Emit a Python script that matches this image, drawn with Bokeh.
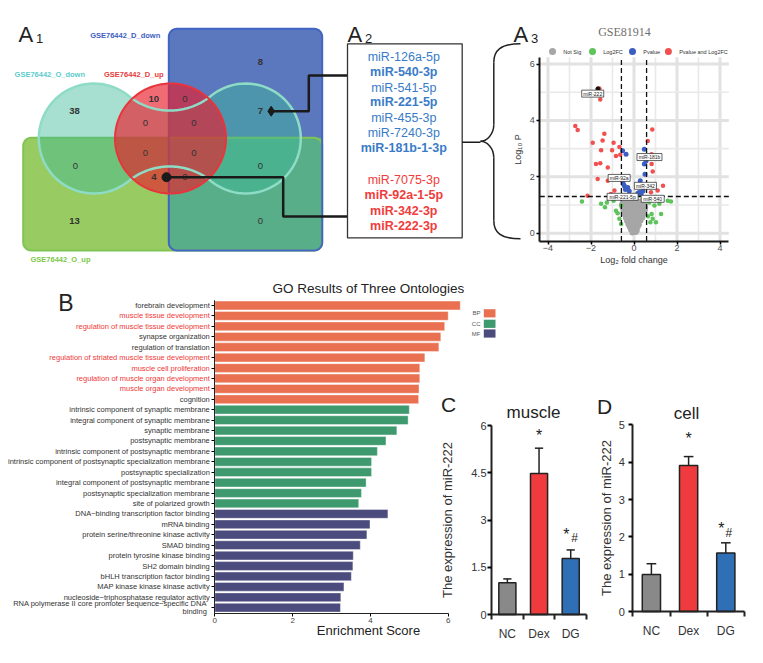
import numpy as np
from bokeh.plotting import figure
from bokeh.models import Range1d, LinearAxis, FixedTicker
from bokeh.core.properties import value
from bokeh.embed import file_html
from bokeh.resources import INLINE

SANS = "Liberation Sans"
SERIF = "Liberation Serif"

# ------------------------------------------------------------------ data
# A1 - Venn diagram
venn_sets = ["GSE76442_D_down", "GSE76442_O_down", "GSE76442_D_up", "GSE76442_O_up"]
venn_counts = [38, 10, 0, 8, 7, 0, 0, 0, 0, 0, 0, 4, 0, 13, 0]

# A2 - miRNA lists
mirs_down = ["miR-126a-5p", "miR-540-3p", "miR-541-5p", "miR-221-5p",
             "miR-455-3p", "miR-7240-3p", "miR-181b-1-3p"]
mirs_down_bold = [False, True, False, True, False, False, True]
mirs_up = ["miR-7075-3p", "miR-92a-1-5p", "miR-342-3p", "miR-222-3p"]
mirs_up_bold = [False, True, True, True]

# A3 - volcano GSE81914 (log2 fold change, -log10 P)
ns_x = [-0.08, 0.02, 0.09, -0.15, -0.04, 0.05, 0.14, -0.21, -0.11, -0.01, 0.09, 0.19,
        -0.27, -0.17, -0.06, 0.04, 0.13, 0.24, -0.33, -0.23, -0.12, -0.02, 0.1, 0.21, 0.31,
        -0.39, -0.29, -0.17, -0.05, 0.07, 0.18, 0.3, 0.4, -0.45, -0.35, -0.23, -0.11, 0.01,
        0.13, 0.25, 0.36, 0.46, -0.5, -0.4, -0.28, -0.16, -0.04, 0.08, 0.2, 0.33, 0.44, 0.52,
        -0.54, -0.42, -0.3, -0.19, -0.07, 0.05, 0.17, 0.29, 0.41, 0.53, -0.56, -0.45, -0.33,
        -0.21, -0.09, 0.03, 0.15, 0.27, 0.39, 0.5, -0.53, -0.4, -0.27, -0.13, 0.0, 0.13, 0.26,
        0.39, 0.52]
ns_y = [0.02, 0.05, 0.03, 0.12, 0.09, 0.13, 0.1, 0.22, 0.18, 0.21, 0.19, 0.23,
        0.31, 0.28, 0.33, 0.29, 0.32, 0.3, 0.42, 0.4, 0.44, 0.39, 0.43, 0.41, 0.44,
        0.54, 0.51, 0.55, 0.52, 0.56, 0.53, 0.5, 0.55, 0.66, 0.68, 0.64, 0.67, 0.65,
        0.69, 0.66, 0.64, 0.68, 0.79, 0.77, 0.8, 0.76, 0.81, 0.78, 0.8, 0.77, 0.79, 0.82,
        0.91, 0.89, 0.93, 0.9, 0.92, 0.88, 0.91, 0.94, 0.9, 0.92, 1.03, 1.01, 1.05,
        1.02, 1.04, 1.0, 1.03, 1.06, 1.02, 1.04, 1.16, 1.13, 1.17, 1.14, 1.18, 1.15, 1.12,
        1.16, 1.19]
fc_x = [-2.42, -1.53, -1.35, -1.26, -0.84, -0.76, -0.6, -0.68, -0.6, -0.95,
        0.71, 0.95, 1.18, 1.57, 1.72, 0.82, 0.87, 1.02, 0.76, 1.26, 0.65]
fc_y = [1.12, 1.04, 0.92, 1.09, 0.8, 0.71, 0.98, 0.51, 0.33, 1.15,
        1.09, 0.98, 1.04, 1.15, 1.12, 0.68, 0.51, 0.39, 0.39, 0.68, 0.6]
pv_x = [-0.53, -0.37, -0.53, -0.45, -0.29, -0.22, -0.4, 0.29, 0.4, 0.48, 0.56, 0.48,
        0.25, 0.51, 0.33, 0.42, 0.18, -0.5]
pv_y = [2.92, 2.8, 1.86, 1.68, 1.62, 1.5, 1.55, 1.86, 1.62, 2.45, 2.56, 2.98,
        1.45, 2.09, 1.39, 1.5, 1.42, 1.75]
both_x = [-1.61, -1.57, -2.73, -2.62, -1.38, -1.46, -1.92, -0.95, -1.53, -1.02, -0.68,
          -0.84, -0.64, -1.77, -1.57, -1.22, -1.69, -1.22, -0.91, -2.16, -1.07,
          0.85, 0.64, 0.82, 0.82, 0.87, 1.35, 0.95, 0.79, 1.1]
both_y = [5.13, 4.74, 3.80, 3.66, 3.53, 3.29, 3.21, 3.21, 2.94, 2.94, 3.06,
          2.74, 2.78, 2.45, 2.48, 2.33, 1.92, 1.86, 1.51, 1.33, 1.39,
          3.68, 3.27, 2.80, 2.45, 2.19, 1.68, 1.68, 1.45, 1.51]
volcano_cats = ["Not Sig", "Log2FC", "Pvalue", "Pvalue and Log2FC"]
volcano_labels = ["miR-222", "miR-181b", "miR-92a", "miR-342", "miR-221-5p", "miR-540"]
fc_cut = 0.585
p_cut = 1.301

# B - GO enrichment
go_terms = [
    "forebrain development", "muscle tissue development",
    "regulation of muscle tissue development", "synapse organization",
    "regulation of translation", "regulation of striated muscle tissue development",
    "muscle cell proliferation", "regulation of muscle organ development",
    "muscle organ development", "cognition",
    "intrinsic component of synaptic membrane", "integral component of synaptic membrane",
    "synaptic membrane", "postsynaptic membrane",
    "intrinsic component of postsynaptic membrane",
    "intrinsic component of postsynaptic specialization membrane",
    "postsynaptic specialization", "integral component of postsynaptic membrane",
    "postsynaptic specialization membrane", "site of polarized growth",
    "DNA\u2212binding transcription factor binding", "mRNA binding",
    "protein serine/threonine kinase activity", "SMAD binding",
    "protein tyrosine kinase binding", "SH2 domain binding",
    "bHLH transcription factor binding", "MAP kinase kinase kinase activity",
    "nucleoside\u2212triphosphatase regulator activity",
    "RNA polymerase II core promoter sequence\u2212specific DNA\nbinding"]
go_scores = [6.31, 6.0, 5.91, 5.81, 5.76, 5.40, 5.27, 5.27, 5.25, 5.24,
             5.00, 4.97, 4.68, 4.40, 4.18, 4.03, 4.03, 3.89, 3.77, 3.70,
             4.45, 3.99, 3.91, 3.74, 3.56, 3.55, 3.51, 3.32, 3.24, 3.23]
go_ontology = ["BP"] * 10 + ["CC"] * 10 + ["MF"] * 10
go_muscle = [False, True, True, False, False, True, True, True, True, False] + [False] * 20
go_ticks = [0, 2, 4, 6]

# C / D - qPCR
groups = ["NC", "Dex", "DG"]
muscle_mean = [1.01, 4.48, 1.78]
muscle_err = [0.12, 0.80, 0.27]
cell_mean = [0.99, 3.91, 1.57]
cell_err = [0.29, 0.24, 0.27]
muscle_ticks = [0, 1.5, 3, 4.5, 6]
cell_ticks = [0, 1, 2, 3, 4, 5]

# ------------------------------------------------------------------ canvas
W, H = 761, 661
X0, X1, Y0, Y1 = 0, W, 0, H


def xr(px0, k):
    return Range1d((X0 - px0) / k, (X1 - px0) / k)


def yr(py0, k):
    return Range1d((py0 - Y1) / k, (py0 - Y0) / k)


p = figure(width=W, height=H, x_range=Range1d(X0, X1), y_range=Range1d(Y1, Y0),
           x_axis_location=None, y_axis_location=None, toolbar_location=None,
           output_backend="svg", min_border=0, outline_line_color=None,
           background_fill_color="white", border_fill_color="white")
p.xgrid.visible = False
p.ygrid.visible = False
p.extra_x_ranges = {"vx": xr(633.5, 21.5), "gx": xr(214.3, 38.9),
                    "cx": xr(475.2, 31.67), "dx": xr(613.7, 37.2)}
p.extra_y_ranges = {"vy": yr(232.7, 28.2), "gy": yr(617.6, 10.42),
                    "cy": yr(614.0, 31.5), "dy": yr(611.0, 37.33)}


def T(x, y, text, size, color="#333333", align="center", baseline="middle",
      bold=False, font=SANS, rng=None):
    xs = list(x) if isinstance(x, (list, tuple, np.ndarray)) else [x]
    ys = list(y) if isinstance(y, (list, tuple, np.ndarray)) else [y]
    ts = list(text) if isinstance(text, (list, tuple)) else [text]
    kw = {} if rng is None else {"x_range_name": rng[0], "y_range_name": rng[1]}
    p.text(x=xs, y=ys, text=ts, text_font=value(font), text_font_size=value(f"{size}px"),
           text_color=color, text_align=align, text_baseline=baseline,
           text_font_style=value("bold" if bold else "normal"), **kw)


# ------------------------------------------------------------------ A1 Venn
def rrect(x0, x1, y0, y1, r, n=10):
    tr, br, bl, tl = r
    xs, ys = [], []
    for cx, cy, rr, a0 in [(x1 - tr, y0 + tr, tr, -np.pi / 2), (x1 - br, y1 - br, br, 0.0),
                           (x0 + bl, y1 - bl, bl, np.pi / 2), (x0 + tl, y0 + tl, tl, np.pi)]:
        t = np.linspace(a0, a0 + np.pi / 2, n)
        xs += list(cx + rr * np.cos(t))
        ys += list(cy + rr * np.sin(t))
    return xs, ys


def peanut(cx1, cx2, cy, R, neck, n=60):
    mx = (cx1 + cx2) / 2
    d = mx - cx1
    r = (d * d + neck * neck - R * R) / (2 * (R - neck))
    h = neck + r
    xs, ys = [], []

    def arc(cx, c_y, rad, a0, a1):
        t = np.linspace(a0, a1, n)
        xs.extend(cx + rad * np.cos(t))
        ys.extend(c_y + rad * np.sin(t))

    arc(cx1, cy, R, np.arctan2(-h, d), np.arctan2(h, d) - 2 * np.pi)
    arc(mx, cy + h, r, np.arctan2(-h, -d), np.arctan2(-h, d))
    arc(cx2, cy, R, np.arctan2(h, -d), np.arctan2(-h, -d))
    arc(mx, cy - h, r, np.arctan2(h, d), np.arctan2(h, -d))
    return xs, ys


bx, by = rrect(168.3, 321.7, 28.3, 250, (8, 8, 8, 8))
gxx, gyy = rrect(22.7, 321.7, 137.3, 250, (8, 8, 8, 8))
ix, iy = rrect(168.3, 321.7, 137.3, 250, (0, 8, 8, 0))
p.patch(gxx, gyy, fill_color="#98cb62", line_color=None)
p.patch(bx, by, fill_color="#5b77be", line_color=None)
p.patch(ix, iy, fill_color="#58ae88", line_color=None)
p.patch(gxx, gyy, fill_color=None, line_color="#80c553", line_width=2)
p.patch(bx, by, fill_color=None, line_color="#4264c3", line_width=2)
pnx, pny = peanut(93.3, 245.3, 138, 55, 28)
p.patch(pnx, pny, fill_color="#3cb898", fill_alpha=0.45, line_color=None)
tt = np.linspace(0, 2 * np.pi, 120)
rcx = list(170 + 55.5 * np.cos(tt))
rcy = list(138 + 55 * np.sin(tt))
p.patch(rcx, rcy, fill_color="#e81e2c", fill_alpha=0.66, line_color=None)
p.patch(pnx, pny, fill_color=None, line_color="#8edcc6", line_width=2.5)
p.patch(rcx, rcy, fill_color=None, line_color="#e8343c", line_width=2)

venn_count_xy = [(74, 110), (153.3, 98.3), (184.3, 98.3), (260, 61.7), (260, 110),
                 (145, 122.3), (193.3, 122.3), (75, 165), (145, 152.7), (193.3, 152.7),
                 (260, 165), (153.3, 176.7), (184.3, 176.7), (74, 220), (260, 220)]
for (cx, cy), c in zip(venn_count_xy, venn_counts):
    T(cx, cy, str(c), 9.5, "#333333", bold=(c > 0))

venn_label_xy = [(124.7, 35), (49.3, 74), (133.3, 74), (60, 259)]
venn_label_col = ["#3d5fc0", "#5ccccc", "#e83c3c", "#7cc84a"]
for (lx, ly), s, col in zip(venn_label_xy, venn_sets, venn_label_col):
    T(lx, ly, s, 7.5, col, bold=True)

# connectors
p.line([270.7, 308.3, 308.3, 347], [110.7, 110.7, 75, 75], line_color="#1a1a1a", line_width=2.5)
p.line([166, 282.7, 282.7, 347], [176.7, 176.7, 216, 216], line_color="#1a1a1a", line_width=2.5)
p.scatter([270.7], [110.7], marker="diamond", size=10, color="#1a1a1a")
p.scatter([166], [176.7], marker="circle", size=9, color="#1a1a1a")

# panel letters
for lx, sub in ((18, "1"), (347, "2"), (513, "3")):
    T(lx, 34, "A", 22, "#222222", align="left", baseline="alphabetic")
    T(lx + 17.5, 38, sub, 13, "#222222", align="left", baseline="alphabetic")

# ------------------------------------------------------------------ A2 list
p.quad(left=347, right=461.7, top=43.3, bottom=237.3, fill_color=None,
       line_color="#333333", line_width=1.3)
down_y = [56, 71.7, 87.3, 101.7, 117.7, 132.7, 147.3]
up_y = [179, 194.7, 210, 225]
for s, b, yy in zip(mirs_down, mirs_down_bold, down_y):
    T(403.3, yy, s, 12.5, "#3a7bc8", bold=b)
for s, b, yy in zip(mirs_up, mirs_up_bold, up_y):
    T(403.3, yy, s, 12.5, "#f03c3c", bold=b)
p.line([461.7, 480], [141.7, 141.7], line_color="#1a1a1a", line_width=1.5)

# brace
p.bezier(x0=[520, 493.3, 480, 493.3], y0=[43.3, 124, 140.8, 220],
         x1=[493.3, 480, 493.3, 520], y1=[62, 140.8, 157, 238.3],
         cx0=[500, 493.3, 486, 493.3], cy0=[43.3, 134, 140.8, 232],
         cx1=[493.3, 486, 493.3, 500], cy1=[50, 140.8, 147, 238.3],
         line_color="#222222", line_width=1.5)
p.segment(x0=[493.3, 493.3], y0=[62, 157], x1=[493.3, 493.3], y1=[124, 220],
          line_color="#222222", line_width=1.5)

# ------------------------------------------------------------------ A3 volcano
V = ("vx", "vy")
vxmin, vxmax, vymin, vymax = -4.38, 4.41, -0.28, 6.24
for vals, w, col in (([-4, -2, 0, 2, 4], 3, "#e2e2e2"), ([-3, -1, 1, 3], 1.6, "#e9e9e9")):
    p.segment(x0=vals, x1=vals, y0=[vymin] * len(vals), y1=[vymax] * len(vals),
              line_color=col, line_width=w, x_range_name="vx", y_range_name="vy")
for vals, w, col in (([0, 2, 4, 6], 3, "#e2e2e2"), ([1, 3, 5], 1.6, "#e9e9e9")):
    p.segment(y0=vals, y1=vals, x0=[vxmin] * len(vals), x1=[vxmax] * len(vals),
              line_color=col, line_width=w, x_range_name="vx", y_range_name="vy")

vcol = ["#a6a6a6", "#5cc45a", "#3b5ec2", "#f0504f"]
for xs, ys, col, sz in ((ns_x, ns_y, vcol[0], 5.5), (fc_x, fc_y, vcol[1], 4.5),
                        (pv_x, pv_y, vcol[2], 5), (both_x, both_y, vcol[3], 4.5)):
    p.scatter(xs, ys, size=sz, color=col, line_color=None, x_range_name="vx", y_range_name="vy")

p.segment(x0=[-fc_cut, fc_cut], x1=[-fc_cut, fc_cut], y0=[vymin, vymin], y1=[vymax, vymax],
          line_color="#111111", line_width=1.3, line_dash="5 3", x_range_name="vx", y_range_name="vy")
p.segment(x0=[vxmin], x1=[vxmax], y0=[p_cut], y1=[p_cut],
          line_color="#111111", line_width=1.3, line_dash="5 3", x_range_name="vx", y_range_name="vy")

lab_x = [-1.92, 0.72, -0.69, 0.53, -0.53, 0.87]
lab_y = [4.95, 2.70, 1.96, 1.68, 1.29, 1.22]
lab_w = [22, 25, 22, 22, 31, 23]
p.scatter([-1.68], [5.12], size=4, color="#111111", x_range_name="vx", y_range_name="vy")
p.rect(x=lab_x, y=lab_y, width=lab_w, height=7, width_units="screen", height_units="screen",
       fill_color="white", line_color="#222222", line_width=0.7, x_range_name="vx", y_range_name="vy")
T(lab_x, lab_y, volcano_labels, 5, "#222222", rng=V)

leg_x = [-3.79, -1.93, -0.07, 1.60]
p.scatter(leg_x, [6.44] * 4, size=7, color=vcol, line_color=None, x_range_name="vx", y_range_name="vy")
T([v + 0.5 for v in leg_x], [6.44] * 4, volcano_cats, 5.5, "#333333", align="left", rng=V)
T(624, 31.3, "GSE81914", 12, "#707070", font=SERIF)

vax = LinearAxis(x_range_name="vx", y_range_name="vy", fixed_location=vxmin, bounds=(vymin, vymax),
                 ticker=FixedTicker(ticks=[0, 2, 4, 6]), axis_label="Log\u2081\u2080 P",
                 axis_label_text_font=SANS, axis_label_text_font_size="9px",
                 axis_label_text_font_style="normal", axis_label_text_color="#333333",
                 axis_label_standoff=3, major_label_text_font=SANS, major_label_text_font_size="9px",
                 major_label_text_color="#4d4d4d", major_label_standoff=2, major_tick_out=3,
                 major_tick_in=0, major_tick_line_width=1.5, minor_tick_line_color=None,
                 axis_line_width=2, axis_line_color="#1a1a1a")
p.add_layout(vax, "left")
hax = LinearAxis(x_range_name="vx", y_range_name="vy", fixed_location=vymin, bounds=(vxmin, vxmax),
                 ticker=FixedTicker(ticks=[-4, -2, 0, 2, 4]), axis_label="Log\u2082 fold change",
                 axis_label_text_font=SANS, axis_label_text_font_size="9px",
                 axis_label_text_font_style="normal", axis_label_text_color="#333333",
                 axis_label_standoff=0, major_label_text_font=SANS, major_label_text_font_size="9px",
                 major_label_text_color="#4d4d4d", major_label_standoff=1, major_tick_out=3,
                 major_tick_in=0, major_tick_line_width=1.5, minor_tick_line_color=None,
                 axis_line_width=2, axis_line_color="#1a1a1a")
p.add_layout(hax, "below")

# ------------------------------------------------------------------ B GO
ont_color = {"BP": "#e97050", "CC": "#3e9a6e", "MF": "#4b4b7d"}
go_y = list(range(len(go_terms), 0, -1))
p.hbar(y=go_y, left=0, right=go_scores, height=0.84,
       fill_color=[ont_color[o] for o in go_ontology], line_color="white", line_alpha=0.5,
       line_width=0.8, x_range_name="gx", y_range_name="gy")
single = [i for i, t in enumerate(go_terms) if "\n" not in t]
for flag, col in ((False, "#333333"), (True, "#f03838")):
    idx = [i for i in range(len(go_terms)) if go_muscle[i] == flag]
    ax = LinearAxis(x_range_name="gx", y_range_name="gy", fixed_location=0, bounds=(0.44, 30.5),
                    ticker=FixedTicker(ticks=[go_y[i] for i in idx]),
                    major_label_overrides={go_y[i]: (go_terms[i] if i in single else "") for i in idx},
                    major_label_text_color=col, major_label_text_font=SANS,
                    major_label_text_font_size="7.5px", major_label_standoff=2,
                    major_tick_out=3, major_tick_in=0, minor_tick_line_color=None,
                    axis_line_color="#222222", axis_line_width=1)
    p.add_layout(ax, "left")
# wrapped label: two lines placed just above and below its bar centre
for i in [j for j in range(len(go_terms)) if j not in single]:
    lines = go_terms[i].split("\n")
    pos = [go_y[i] + 0.38, go_y[i] - 0.38]
    wax = LinearAxis(x_range_name="gx", y_range_name="gy", fixed_location=0, bounds=(0.44, 30.5),
                     ticker=FixedTicker(ticks=pos),
                     major_label_overrides={pp: s for pp, s in zip(pos, lines)},
                     major_label_text_color="#333333", major_label_text_font=SANS,
                     major_label_text_font_size="7.5px", major_label_standoff=5,
                     major_tick_line_color=None, major_tick_out=3, major_tick_in=0,
                     minor_tick_line_color=None, axis_line_color=None)
    p.add_layout(wax, "left")
gax = LinearAxis(x_range_name="gx", y_range_name="gy", fixed_location=0.44, bounds=(0, 6),
                 ticker=FixedTicker(ticks=go_ticks), major_label_text_font=SANS,
                 major_label_text_font_size="8px", major_label_text_color="#444444",
                 major_label_standoff=1, major_tick_out=3, major_tick_in=0,
                 minor_tick_line_color=None, axis_line_color="#222222", axis_line_width=1)
p.add_layout(gax, "below")
T(368, 288, "GO Results of Three Ontologies", 13.5, "#222222")
T(368, 630, "Enrichment Score", 13, "#222222")
T(65.5, 302, "B", 23, "#222222")
leg_y = [312.8, 323.3, 333]
p.quad(left=[483.3] * 3, right=[495] * 3, top=[v - 4.1 for v in leg_y],
       bottom=[v + 4.1 for v in leg_y], fill_color=list(ont_color.values()), line_color=None)
T([480] * 3, leg_y, list(ont_color.keys()), 6, "#555555", align="right")


# ------------------------------------------------------------------ C / D bars
def bar_panel(rx, ry, means, errs, ticks, bw, letter_xy, title, title_xy, std):
    xs = np.arange(1, len(groups) + 1)
    p.vbar(x=xs, bottom=0, top=means, width=bw, fill_color=["#898989", "#ef3b3e", "#2f6fb6"],
           line_color="#222222", line_width=1.5, x_range_name=rx, y_range_name=ry)
    tops = np.array(means) + np.array(errs)
    p.segment(x0=xs, x1=xs, y0=means, y1=tops, line_color="#222222", line_width=1.5,
              x_range_name=rx, y_range_name=ry)
    p.segment(x0=xs - 0.13, x1=xs + 0.13, y0=tops, y1=tops, line_color="#222222",
              line_width=1.5, x_range_name=rx, y_range_name=ry)
    yax = LinearAxis(x_range_name=rx, y_range_name=ry, fixed_location=0.5,
                     bounds=(ticks[0], ticks[-1]), ticker=FixedTicker(ticks=ticks),
                     major_label_overrides={t: f"{t:g}" for t in ticks},
                     axis_label="The expression of miR-222", axis_label_text_font=SANS,
                     axis_label_text_font_size="13px", axis_label_text_font_style="normal",
                     axis_label_text_color="#333333", axis_label_standoff=std[1],
                     major_label_text_font=SANS, major_label_text_font_size="11px",
                     major_label_text_color="#333333", major_label_standoff=std[0],
                     major_tick_out=4, major_tick_in=0, major_tick_line_width=2,
                     minor_tick_line_color=None, axis_line_width=2, axis_line_color="#222222")
    p.add_layout(yax, "left")
    xax = LinearAxis(x_range_name=rx, y_range_name=ry, fixed_location=0, bounds=(0.5, 3.5),
                     ticker=FixedTicker(ticks=list(xs), minor_ticks=[0.5, 1.5, 2.5, 3.5]),
                     major_label_overrides={int(i): g for i, g in zip(xs, groups)},
                     major_label_text_font=SANS, major_label_text_font_size="12px",
                     major_label_text_color="#333333", major_label_standoff=7,
                     major_tick_line_color=None, major_tick_out=0, major_tick_in=0,
                     minor_tick_out=5, minor_tick_in=0, minor_tick_line_width=2,
                     minor_tick_line_color="#222222", axis_line_width=2, axis_line_color="#222222")
    p.add_layout(xax, "below")
    T(letter_xy[0], letter_xy[1], "C" if rx == "cx" else "D", 21, "#222222")
    T(title_xy[0], title_xy[1], title, 17, "#222222")


bar_panel("cx", "cy", muscle_mean, muscle_err, muscle_ticks, 0.54, (448, 404), "muscle", (533, 412), (1, 13))
bar_panel("dx", "dy", cell_mean, cell_err, cell_ticks, 0.49, (604, 405.5), "cell", (686, 413), (4, 1))
T([2.0, 2.86], [5.68, 2.54], ["*", "*"], 16, "#222222", rng=("cx", "cy"))
T([3.12], [2.43], ["#"], 12, "#222222", rng=("cx", "cy"))
T([2.0, 2.88], [4.63, 2.22], ["*", "*"], 16, "#222222", rng=("dx", "dy"))
T([3.08], [2.11], ["#"], 12, "#222222", rng=("dx", "dy"))

open("out.html", "w").write(file_html(p, INLINE))
